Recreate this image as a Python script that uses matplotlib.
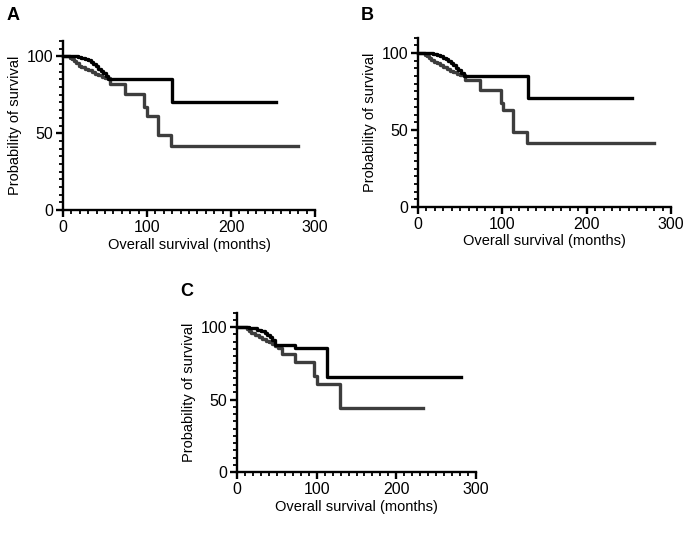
import matplotlib
matplotlib.use("Agg")
import matplotlib.pyplot as plt
from matplotlib.ticker import MultipleLocator

plt.rcParams['font.family'] = ['Liberation Sans', 'DejaVu Sans']

# ---- Data (Kaplan-Meier step curves) ----
# Panel A
a_black_t = [0, 18, 22, 26, 30, 33, 36, 39, 42, 45, 48, 51, 54, 130, 254]
a_black_s = [100, 99.5, 99, 98.3, 97.4, 96.3, 95, 93.6, 92, 90.5, 88.9, 87.3, 85.5, 70.5, 70.5]
a_gray_t = [0, 8, 11, 13, 16, 19, 22, 26, 30, 34, 38, 42, 46, 50, 56, 74, 97, 100, 113, 129, 280]
a_gray_s = [100, 99, 98, 96.8, 95.5, 94, 93, 92, 91, 89.8, 88.8, 87.8, 86.8, 85.8, 82.3, 75.8, 67, 61.5, 48.5, 41.5, 41.5]

# Panel B
b_black_t = [0, 18, 22, 26, 30, 33, 36, 39, 42, 45, 48, 51, 54, 130, 254]
b_black_s = [100, 99.5, 99, 98.2, 97, 95.9, 94.6, 93.4, 92, 90.5, 88.9, 87.2, 85.2, 70.5, 70.5]
b_gray_t = [0, 8, 11, 13, 16, 19, 22, 26, 30, 34, 38, 42, 46, 50, 56, 73, 98, 101, 113, 129, 280]
b_gray_s = [100, 99, 98, 96.7, 95.4, 94.2, 93.2, 92, 91, 89.8, 88.6, 87.6, 86.6, 85.6, 82.4, 76, 67.5, 62.8, 49, 41.5, 41.5]

# Panel C
c_black_t = [0, 15, 20, 25, 30, 35, 38, 41, 44, 48, 73, 113, 281]
c_black_s = [100, 99.5, 99, 98, 97, 95.6, 94.5, 93, 91, 87.6, 85.3, 65.7, 65.7]
c_gray_t = [0, 12, 15, 18, 22, 27, 32, 36, 40, 44, 48, 52, 56, 73, 97, 100, 129.5, 233]
c_gray_s = [100, 98.5, 97, 95.6, 94.5, 93, 91.5, 90.5, 89.9, 88.5, 87, 85.3, 81.1, 76, 66, 61, 44, 44]

x_ticks = [0, 100, 200, 300]
y_ticks = [0, 50, 100]
x_label = "Overall survival (months)"
y_label = "Probability of survival"

BLACK = "#000000"
GRAY = "#3d3d3d"

fig = plt.figure(figsize=(6.99, 5.38), dpi=100)

def make_ax(rect, bt, bs, gt, gs):
    ax = fig.add_axes(rect)
    ax.step(gt, gs, where='post', color=GRAY, lw=2.4, clip_on=False, zorder=3)
    ax.step(bt, bs, where='post', color=BLACK, lw=2.4, clip_on=False, zorder=4)
    ax.set_xlim(0, 300)
    ax.set_ylim(0, 110)
    ax.set_xticks(x_ticks)
    ax.set_yticks(y_ticks)
    ax.xaxis.set_minor_locator(MultipleLocator(10))
    ax.yaxis.set_minor_locator(MultipleLocator(5))
    for s in ['top', 'right']:
        ax.spines[s].set_visible(False)
    for s in ['left', 'bottom']:
        ax.spines[s].set_linewidth(1.7)
    ax.tick_params(which='major', length=5, width=1.7, labelsize=11.5, pad=2)
    ax.tick_params(which='minor', length=3, width=1.3)
    ax.set_xlabel(x_label, fontsize=10.5, labelpad=2)
    ax.set_ylabel(y_label, fontsize=10.5, labelpad=3)
    return ax

W, H = 699, 538
def rect(l, r, top, bot):
    return [l / W, 1 - bot / H, (r - l) / W, (bot - top) / H]

axA = make_ax(rect(63, 315, 41, 210), a_black_t, a_black_s, a_gray_t, a_gray_s)
axB = make_ax(rect(418, 671, 37.6, 207), b_black_t, b_black_s, b_gray_t, b_gray_s)
axC = make_ax(rect(237, 476, 312.5, 472), c_black_t, c_black_s, c_gray_t, c_gray_s)

fig.text(13 / W, 1 - 16 / H, "A", fontsize=13, fontweight='bold', ha='center', va='center')
fig.text(367 / W, 1 - 16 / H, "B", fontsize=13, fontweight='bold', ha='center', va='center')
fig.text(187 / W, 1 - 292 / H, "C", fontsize=13, fontweight='bold', ha='center', va='center')

fig.savefig("out.png", dpi=100)
